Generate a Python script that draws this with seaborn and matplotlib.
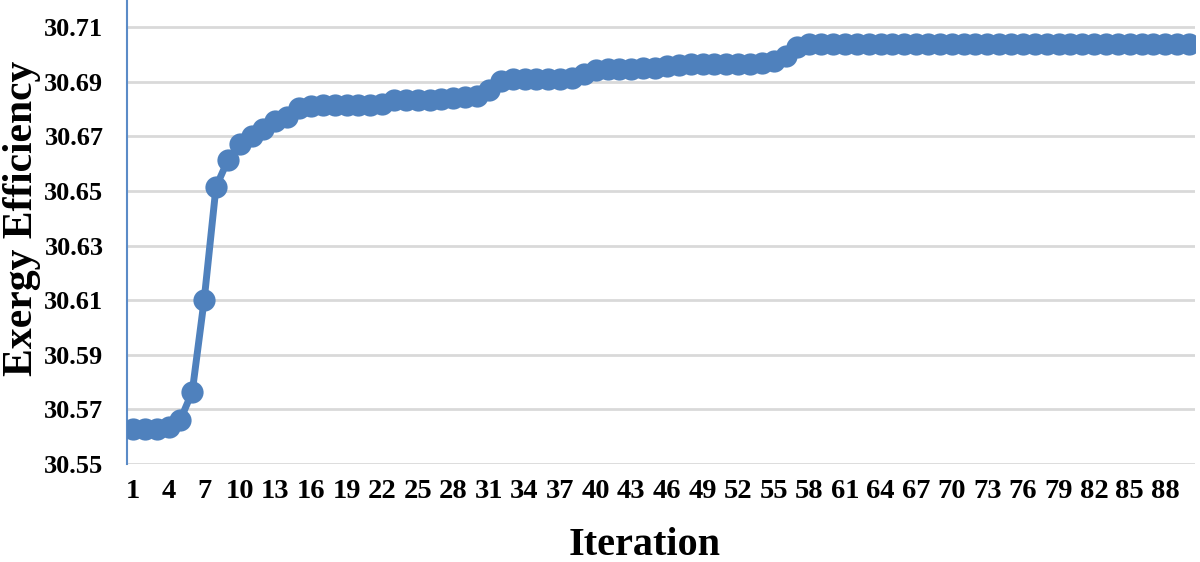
import numpy as np
import pandas as pd
import matplotlib
matplotlib.use("Agg")
import matplotlib.pyplot as plt
import seaborn as sns

# values
iterations = list(range(1, 91))
efficiency = [
    30.5630, 30.5630, 30.5630, 30.5635, 30.5662, 30.5765, 30.6100, 30.6515, 30.6613, 30.6672,
    30.6703, 30.6728, 30.6755, 30.6770, 30.6805, 30.6812, 30.6815, 30.6815, 30.6815, 30.6815,
    30.6817, 30.6820, 30.6833, 30.6835, 30.6835, 30.6835, 30.6837, 30.6840, 30.6843, 30.6850,
    30.6872, 30.6905, 30.6910, 30.6910, 30.6910, 30.6910, 30.6912, 30.6915, 30.6928, 30.6945,
    30.6947, 30.6947, 30.6948, 30.6950, 30.6952, 30.6957, 30.6963, 30.6965, 30.6965, 30.6965,
    30.6965, 30.6965, 30.6966, 30.6968, 30.6975, 30.6995, 30.7027, 30.7038, 30.7038, 30.7038,
    30.7038, 30.7038, 30.7038, 30.7038, 30.7038, 30.7038, 30.7038, 30.7038, 30.7038, 30.7038,
    30.7038, 30.7038, 30.7038, 30.7038, 30.7038, 30.7038, 30.7038, 30.7038, 30.7038, 30.7038,
    30.7038, 30.7038, 30.7038, 30.7038, 30.7038, 30.7038, 30.7038, 30.7038, 30.7038, 30.7038,
]
x_tick_labels = iterations[::3]
y_ticks = [30.55, 30.57, 30.59, 30.61, 30.63, 30.65, 30.67, 30.69, 30.71]

df = pd.DataFrame({"Iteration": iterations, "Exergy Efficiency": efficiency})

sns.set_style("white")
plt.rcParams["font.family"] = ["Liberation Serif", "DejaVu Serif"]
plt.rcParams["font.weight"] = "bold"
plt.rcParams["text.color"] = "black"
plt.rcParams["axes.labelcolor"] = "black"
plt.rcParams["xtick.color"] = "black"
plt.rcParams["ytick.color"] = "black"

fig = plt.figure(figsize=(12, 5.62), dpi=100)
ax = fig.add_axes([127 / 1200, (562 - 464) / 562, (1195 - 127) / 1200, 464 / 562])

blue = "#4F81BD"
sns.lineplot(data=df, x="Iteration", y="Exergy Efficiency", ax=ax,
             color=blue, linewidth=5, marker="o", markersize=16,
             markeredgewidth=0, zorder=3)

ax.set_xlim(0.5, 90.5)
ax.set_ylim(30.55, 30.72)
ax.set_yticks(y_ticks)
ax.set_yticklabels([f"{v:.2f}" for v in y_ticks])
ax.set_xticks(x_tick_labels)
ax.set_xticklabels([str(v) for v in x_tick_labels])

ax.grid(axis="y", color="#D9D9D9", linewidth=2, zorder=0)
ax.grid(axis="x", visible=False)
for side in ["top", "right", "bottom"]:
    ax.spines[side].set_visible(False)
ax.spines["left"].set_color("#5B8BC7")
ax.spines["left"].set_linewidth(1.5)

ax.tick_params(axis="y", length=0, pad=17, labelsize=19)
ax.tick_params(axis="x", length=0, pad=11, labelsize=20.5)
for lab in ax.get_xticklabels() + ax.get_yticklabels():
    lab.set_fontweight("bold")

ax.set_xlabel("Iteration", fontsize=29, fontweight="bold")
ax.set_ylabel("Exergy Efficiency", fontsize=30, fontweight="bold")
ax.xaxis.set_label_coords(0.485, -0.176)
ax.yaxis.set_label_coords(-0.098, 0.53)
ax.xaxis.label.set_verticalalignment("center")
ax.yaxis.label.set_verticalalignment("center")

fig.savefig("out.png", dpi=100)
